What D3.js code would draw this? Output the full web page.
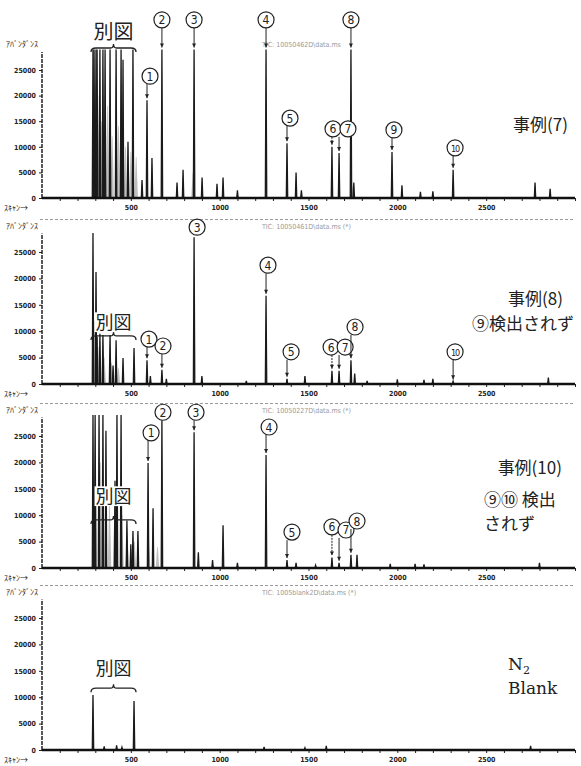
<!DOCTYPE html>
<html>
<head>
<meta charset="utf-8">
<script src="https://cdn.jsdelivr.net/npm/d3@7"></script>
<style>
  body { margin: 0; background: #fff; }
  svg { display: block; }
  .tick text { font-family: "DejaVu Sans Condensed", "DejaVu Sans", sans-serif; font-size: 7px; font-weight: bold; fill: #222; }
  .jp { font-family: "Noto Sans CJK JP", sans-serif; fill: #222; }
</style>
</head>
<body>
<div id="chart"></div>
<script>
// ピーク [スキャン, アバンダンス] 上限 29000 で振り切れ
const peaks7 = [
  [287, 29000], [293, 29000], [304, 29000], [310, 29000], [326, 29000], [343, 29000],
  [355, 29000], [383, 29000], [417, 29000], [445, 29000], [456, 27000], [484, 11000],
  [512, 29000], [563, 3500], [591, 19100], [619, 7800], [675, 29000], [760, 3000],
  [794, 5500], [856, 29000], [901, 4000], [985, 2800], [1019, 4000], [1100, 1500],
  [1261, 29000], [1379, 10700], [1430, 5000], [1460, 1500], [1632, 10000], [1672, 8800],
  [1739, 29000], [1755, 3000], [1970, 9000], [2026, 2500], [2130, 1200], [2200, 1300],
  [2314, 5500], [2775, 3000], [2860, 1800]
];
const peaks8 = [
  [287, 28600], [304, 21200], [310, 9000], [326, 9500], [343, 9300], [383, 9300],
  [400, 3500], [417, 8300], [456, 4900], [518, 6800], [591, 4500], [610, 1500],
  [675, 2700], [700, 1000], [856, 27800], [900, 1500], [1150, 600], [1261, 16700],
  [1379, 1000], [1480, 1500], [1632, 2500], [1672, 2500], [1739, 4500], [1760, 2000],
  [1830, 600], [2000, 900], [2150, 800], [2200, 1000], [2314, 500], [2850, 1200]
];
const peaks10 = [
  [287, 29000], [299, 29000], [321, 29000], [343, 29000], [360, 26000], [411, 16500],
  [422, 29000], [445, 29000], [478, 9000], [500, 4500], [512, 7000], [540, 7000],
  [597, 19900], [625, 11300], [675, 28000], [856, 25700], [880, 3000], [960, 1500],
  [1019, 8100], [1100, 1000], [1261, 21400], [1379, 1500], [1430, 1000], [1540, 500],
  [1632, 2000], [1672, 1000], [1739, 2500], [1773, 2500], [1960, 800], [2100, 800],
  [2150, 700], [2800, 1000]
];
const peaksBlank = [
  [287, 10400], [350, 700], [420, 900], [450, 500], [518, 9300], [1250, 600],
  [1480, 400], [1600, 800], [2750, 800]
];

// 重なって灰色に見える部分
const gray7 = [[300, 22000], [315, 20000], [335, 15000], [350, 13000], [370, 18000], [395, 12000],
  [430, 14000], [470, 10000], [500, 9000], [530, 8000], [850, 5000], [1745, 2500]];
const gray8 = [[295, 12000], [320, 7000], [350, 5000], [390, 4000], [430, 3000]];
const gray10 = [[300, 22000], [330, 20000], [380, 12000], [410, 12000], [450, 10000],
  [480, 6000], [520, 5000], [600, 5000], [650, 4000]];
const grayBlank = [];

// 丸数字 [番号, ピークのスキャン, 丸のスキャン, 丸の高さ]
const marks7 = [
  [1, 591, 608, 23800], [2, 675, 675, 34800], [3, 856, 856, 34800], [4, 1261, 1261, 34800],
  [5, 1379, 1396, 15600], [6, 1632, 1638, 13500], [7, 1672, 1722, 13500], [8, 1739, 1739, 34800],
  [9, 1970, 1981, 13300], [10, 2314, 2325, 9800]
];
const marks8 = [
  [3, 856, 873, 29700], [4, 1261, 1272, 22500], [1, 591, 602, 8500], [2, 675, 681, 7200],
  [5, 1379, 1402, 6100], [6, 1632, 1627, 7000], [7, 1672, 1706, 7000], [8, 1739, 1762, 10800],
  [10, 2314, 2325, 6100]
];
const marks10 = [
  [2, 675, 681, 29500], [3, 856, 867, 29500], [1, 597, 614, 25600], [4, 1261, 1278, 26700],
  [5, 1379, 1407, 6800], [6, 1632, 1632, 7800], [7, 1672, 1711, 7200], [8, 1739, 1773, 8900]
];
const marksBlank = [];

// 別図 [開始スキャン, 終了スキャン, 括弧の高さ, 文字の高さ]
const betsuzu7 = [287, 518, 29300, 32600];
const betsuzu8 = [287, 518, 9100, 11700];
const betsuzu10 = [287, 518, 9100, 13600];
const betsuzuBlank = [287, 518, 11700, 15500];

const yTicks = [0, 5000, 10000, 15000, 20000, 25000];
const xTicks = [500, 1000, 1500, 2000, 2500];
const titles = ["TIC: 10050462D\\data.ms", "TIC: 10050461D\\data.ms (*)", "TIC: 10050227D\\data.ms (*)", "TIC: 1005blank2D\\data.ms (*)"];

const width = 581, height = 766;
const svg = d3.select("#chart").append("svg").attr("width", width).attr("height", height);

const x = d3.scaleLinear().domain([0, 3000]).range([42, 575]);
const circled = ["", "1", "2", "3", "4", "5", "6", "7", "8", "9", "10"];

const panels = [
  { base: 198, h25: 128, peaks: peaks7, gray: gray7, marks: marks7, bz: betsuzu7, bzSize: 20, bzBox: false },
  { base: 384, h25: 132, peaks: peaks8, gray: gray8, marks: marks8, bz: betsuzu8, bzSize: 18, bzBox: true },
  { base: 568, h25: 132, peaks: peaks10, gray: gray10, marks: marks10, bz: betsuzu10, bzSize: 18, bzBox: true },
  { base: 750, h25: 132, peaks: peaksBlank, gray: grayBlank, marks: marksBlank, bz: betsuzuBlank, bzSize: 18, bzBox: false }
];

panels.forEach((p, i) => {
  const y = d3.scaleLinear().domain([0, 25000]).range([p.base, p.base - p.h25]);
  const g = svg.append("g");
  const top = y(28500);

  // 上の破線とタイトル
  if (i > 0) {
    g.append("line").attr("x1", 40).attr("x2", 575).attr("y1", top - 14).attr("y2", top - 14)
      .attr("stroke", "#999").attr("stroke-dasharray", "3,2").attr("stroke-width", 1);
  }
  g.append("text").attr("x", 262).attr("y", top - 5).attr("font-size", 7)
    .attr("font-family", "DejaVu Sans Condensed, sans-serif").attr("fill", "#9a9a9a").text(titles[i]);

  g.append("text").attr("class", "jp").attr("x", 6).attr("y", top - 5)
    .attr("font-size", 8).text("ｱﾊﾞﾝﾀﾞﾝｽ");
  g.append("text").attr("class", "jp").attr("x", 4).attr("y", p.base + 13)
    .attr("font-size", 8).text("ｽｷｬﾝ→");

  // 灰色のかたまり
  g.selectAll(".gray").data(p.gray).enter().append("path")
    .attr("d", d => `M${x(d[0] - 10)},${y(0)}L${x(d[0] - 2)},${y(d[1])}L${x(d[0] + 2)},${y(d[1])}L${x(d[0] + 10)},${y(0)}Z`)
    .attr("fill", "#8a8a8a").attr("opacity", 0.55);

  // ピーク
  g.selectAll(".peak").data(p.peaks).enter().append("path")
    .attr("d", d => `M${x(d[0] - 4)},${y(0)}L${x(d[0])},${y(d[1])}L${x(d[0] + 4)},${y(0)}`)
    .attr("fill", "#333").attr("stroke", "#1a1a1a").attr("stroke-width", 1.3);

  // 軸
  const yAxis = d3.axisLeft(y).tickValues(yTicks).tickSize(3).tickFormat(d3.format("d"));
  const ya = g.append("g").attr("transform", "translate(42,0)").call(yAxis);
  ya.select(".domain").remove();
  ya.selectAll("line").attr("stroke", "#222");
  g.append("line").attr("x1", 42).attr("x2", 42).attr("y1", p.base).attr("y2", top)
    .attr("stroke", "#222").attr("stroke-width", 1.5).attr("stroke-dasharray", "4,1");

  const xAxis = d3.axisBottom(x).tickValues(d3.range(100, 3001, 100)).tickSize(3)
    .tickFormat(d => xTicks.includes(d) ? d : "");
  const xa = g.append("g").attr("transform", `translate(0,${p.base})`).call(xAxis);
  xa.select(".domain").remove();
  xa.selectAll("line").attr("stroke", "#222");
  xa.selectAll("text").attr("dy", "0.9em");
  g.append("line").attr("x1", 42).attr("x2", 575).attr("y1", p.base).attr("y2", p.base)
    .attr("stroke", "#111").attr("stroke-width", 2.5);

  // 丸数字と矢印
  p.marks.forEach(m => {
    const peak = p.peaks.find(d => d[0] === m[1]);
    const cx = x(m[2]), cy = y(m[3]), px = x(m[1]);
    const tipY = y(peak ? peak[1] : 0) - 2;
    const r = 8;
    const startY = cy + r;
    if (tipY > startY + 2) {
      g.append("path")
        .attr("d", `M${px},${startY}L${px},${tipY}`)
        .attr("stroke", "#222").attr("stroke-width", 1)
        .attr("stroke-dasharray", (m[0] === 6) ? "2,1" : null);
      g.append("path")
        .attr("d", `M${px - 2},${tipY - 4}L${px},${tipY}L${px + 2},${tipY - 4}Z`)
        .attr("fill", "#222");
    }
    g.append("circle").attr("cx", cx).attr("cy", cy).attr("r", r)
      .attr("fill", "#fff").attr("stroke", "#222").attr("stroke-width", 1.2);
    g.append("text").attr("x", cx).attr("y", cy + 4.5).attr("text-anchor", "middle")
      .attr("font-family", "DejaVu Sans Condensed, sans-serif")
      .attr("font-size", m[0] === 10 ? 9 : 12).attr("letter-spacing", m[0] === 10 ? -1 : 0)
      .attr("fill", "#222").text(circled[m[0]]);
  });

  // 別図
  const b = p.bz, bx0 = x(b[0]) - 2, bx1 = x(b[1]) + 2, by = y(b[2]), bm = (bx0 + bx1) / 2;
  g.append("path")
    .attr("d", `M${bx0},${by + 4}Q${bx0},${by} ${bx0 + 5},${by}L${bm - 3},${by}Q${bm},${by} ${bm},${by - 4}Q${bm},${by} ${bm + 3},${by}L${bx1 - 5},${by}Q${bx1},${by} ${bx1},${by + 4}`)
    .attr("fill", "none").attr("stroke", "#222").attr("stroke-width", 1.3);
  const ty = y(b[3]);
  if (p.bzBox) {
    g.append("rect").attr("x", bm - p.bzSize - 1).attr("y", ty - p.bzSize * 0.55)
      .attr("width", p.bzSize * 2 + 2).attr("height", p.bzSize * 1.1).attr("fill", "#fff");
  }
  g.append("text").attr("class", "jp").attr("x", bm).attr("y", ty + p.bzSize * 0.38)
    .attr("text-anchor", "middle").attr("font-size", p.bzSize).text("別図");
});

// 右側の説明
const notes = svg.append("g").attr("class", "jp");
notes.append("text").attr("x", 568).attr("y", 131).attr("text-anchor", "end").attr("font-size", 17).text("事例(7)");
notes.append("text").attr("x", 563).attr("y", 305).attr("text-anchor", "end").attr("font-size", 17).text("事例(8)");
notes.append("text").attr("x", 574).attr("y", 330).attr("text-anchor", "end").attr("font-size", 17).text("⑨検出されず");
notes.append("text").attr("x", 562).attr("y", 474).attr("text-anchor", "end").attr("font-size", 17).text("事例(10)");
notes.append("text").attr("x", 484).attr("y", 506).attr("font-size", 17).text("⑨⑩ 検出");
notes.append("text").attr("x", 484).attr("y", 530).attr("font-size", 17).text("されず");

const blank = svg.append("g").attr("font-family", "DejaVu Serif, Liberation Serif, serif").attr("fill", "#222");
const n2 = blank.append("text").attr("x", 508).attr("y", 670).attr("font-size", 17);
n2.append("tspan").text("N");
n2.append("tspan").attr("font-size", 11).attr("dy", 4).text("2");
blank.append("text").attr("x", 508).attr("y", 694).attr("font-size", 17).text("Blank");
</script>
</body>
</html>
